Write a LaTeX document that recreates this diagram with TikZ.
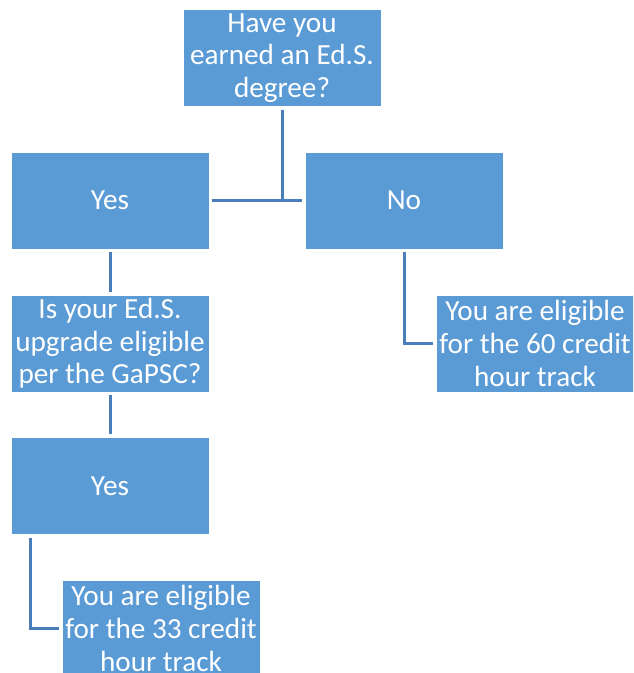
\documentclass[tikz,border=0pt]{standalone}
\usepackage{fontspec}
\setmainfont{Carlito}
\usepackage{tikz}
\usetikzlibrary{arrows.meta,positioning}
\definecolor{boxblue}{HTML}{5B9BD5}
\definecolor{linkblue}{HTML}{4A7EBB}

\begin{document}
\begin{tikzpicture}[x=0.5pt, y=-0.5pt, box/.style={rectangle, fill=boxblue, draw=white, line width=0.3pt, text=white, inner sep=0pt, minimum width=99pt, minimum height=48.5pt, align=center, font=\fontsize{14.6}{16.3}\selectfont}, link/.style={draw=linkblue, line width=1.5pt, shorten <=1.5pt, shorten >=1.5pt}]
  \path[use as bounding box, clip] (0,0) rectangle (633,673);
  \node[box] (q1) at (282,58) {Have you\\earned an Ed.S.\\degree?};
  \node[box] (yes1) at (110,200.5) {Yes};
  \node[box] (no1) at (404,200.5) {No};
  \node[box] (q2) at (110,343.5) {Is your Ed.S.\\upgrade eligible\\per the GaPSC?};
  \node[box] (yes2) at (110,486) {Yes};
  \node[box] (t60) at (535,343.5) {You are eligible\\for the 60 credit\\hour track};
  \node[box] (t33) at (161,628.5) {You are eligible\\for the 33 credit\\hour track};
  % connectors
  \draw[link] (yes1.east) -- (no1.west);
  \draw[link, shorten >=0pt] (q1.south) -- (q1.south |- yes1.east);
  \draw[link] (yes1.south) -- (q2.north);
  \draw[link] (q2.south) -- (yes2.north);
  \draw[link] (no1.south) |- (t60.west);
  \draw[link] ([xshift=10pt]yes2.south west) |- (t33.west);
\end{tikzpicture}
\end{document}
